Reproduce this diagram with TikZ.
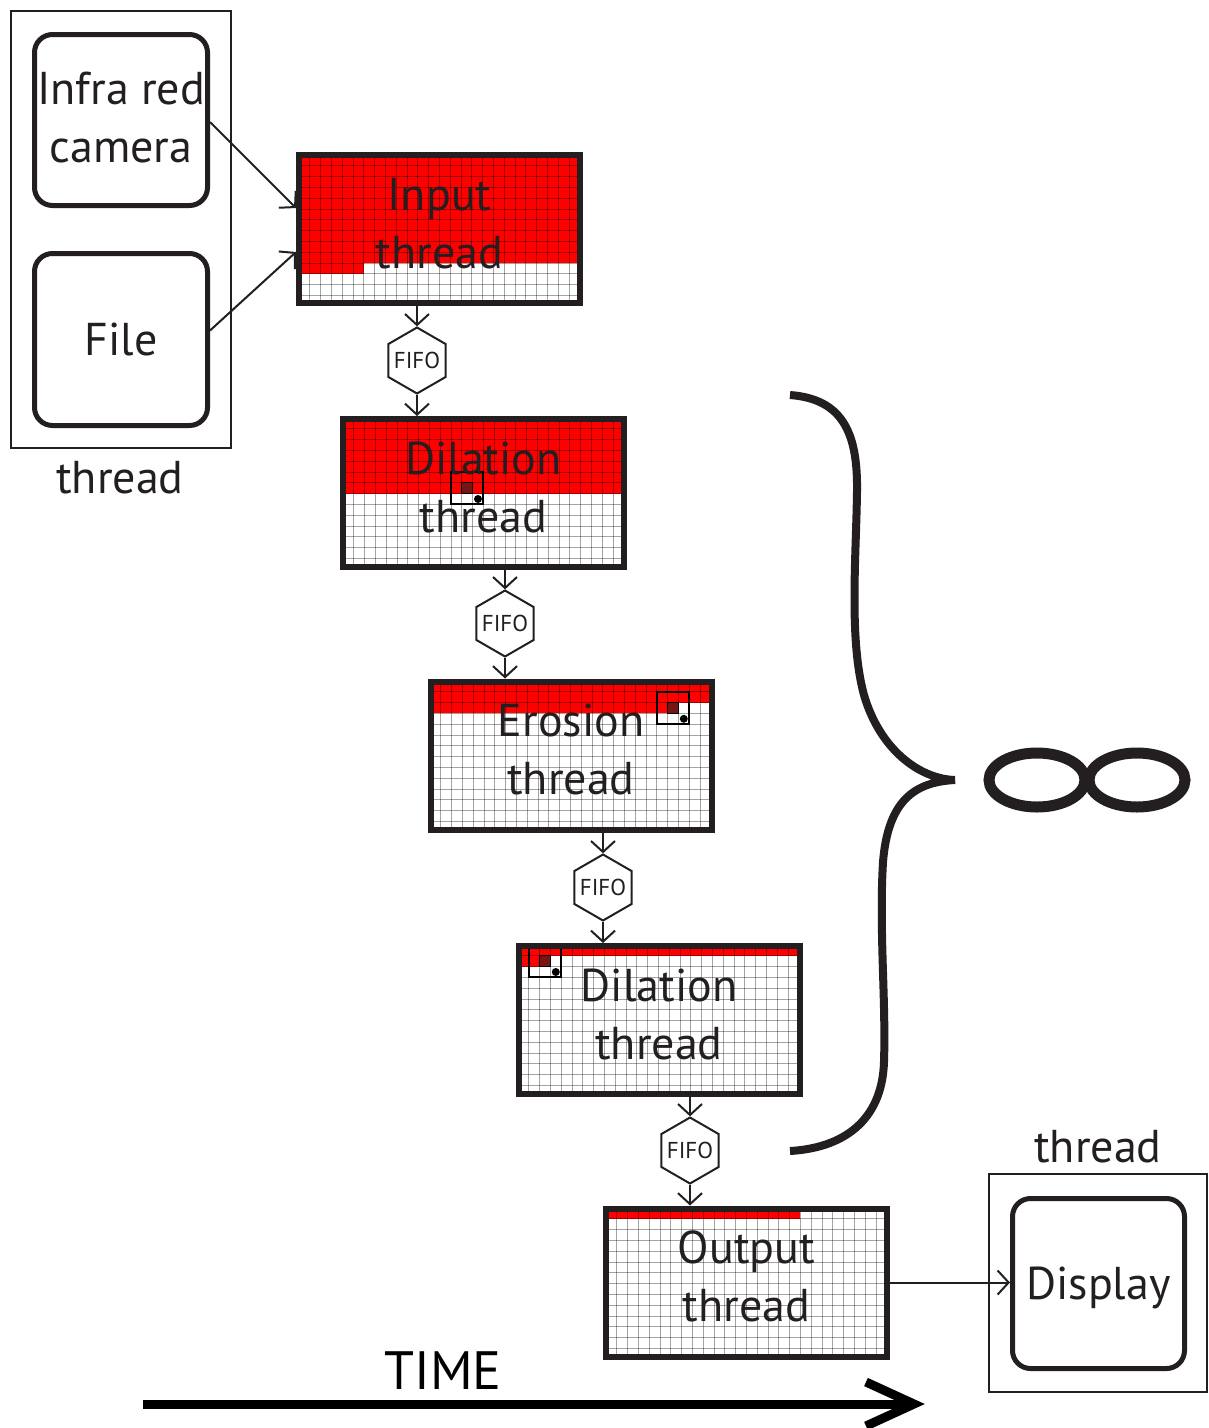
\documentclass[tikz,border=0pt]{standalone}
\usepackage{fontspec}
\setmainfont{PT Sans}
\usetikzlibrary{arrows.meta,shapes.geometric}
\definecolor{ink}{RGB}{35,31,32}
\definecolor{scanred}{RGB}{255,0,0}
\definecolor{darkcell}{RGB}{120,20,20}
\newcommand\cellsz{10.8}
\newcommand\gridlines[2]{%
  \begin{scope}
    \clip (#1,#2) rectangle ++(281,148);
    \foreach \k in {1,...,26}{\draw[gridln] ({#1+\k*\cellsz},#2) -- ++(0,148);}
    \foreach \k in {1,...,13}{\draw[gridln] (#1,{#2+\k*\cellsz}) -- ++(281,0);}
  \end{scope}}
\newcommand\redrect[4]{\fill[scanred] (#1,#2) rectangle ++(#3,#4);}
\newcommand\scanwin[4]{%
  \filldraw[fill=darkcell,draw=black,line width=1.2pt] ({#1+#3*\cellsz},{#2+#4*\cellsz}) rectangle ++(\cellsz,\cellsz);
  \draw[black,line width=2pt] ({#1+(#3-1)*\cellsz},{#2+(#4-1)*\cellsz}) rectangle ++({3*\cellsz},{3*\cellsz});
  \fill[black] ({#1+(#3+1.5)*\cellsz},{#2+(#4+1.5)*\cellsz}) circle[radius=4pt];}
\tikzset{
  gridln/.style={draw=black,draw opacity=0.36,line width=1pt},
  gbox/.style={draw=ink,line width=6pt,minimum width=281pt,minimum height=148pt,inner sep=0pt,align=center,font=\fontsize{46}{58}\selectfont,text=ink,text depth=12pt},
  rbox/.style={draw=ink,line width=5pt,rounded corners=18pt,minimum width=173pt,minimum height=171pt,inner sep=0pt,align=center,font=\fontsize{46}{58}\selectfont,text=ink,text depth=6pt},
  tbox/.style={draw=ink,line width=2pt,inner sep=0pt},
  fifo/.style={draw=ink,line width=2pt,fill=white,regular polygon,regular polygon sides=6,shape border rotate=30,minimum size=66pt,inner sep=-10pt,font=\fontsize{23}{23}\selectfont,text=ink},
  conn/.style={draw=ink,line width=2pt,-{Straight Barb[length=11pt,width=24pt]}},
  lbl/.style={inner sep=0pt,font=\fontsize{46}{58}\selectfont,text=ink},
  thick curve/.style={draw=ink,line width=8pt,line cap=butt}
}
\begin{document}
\begin{tikzpicture}[x=1pt,y=-1pt]
\fill[white] (0,0) rectangle (1209,1428);
\useasboundingbox (0,0) rectangle (1209,1428);

% ---- grid backgrounds ----
\redrect{299}{155}{281}{108}
\redrect{299}{155}{64.8}{118.8}
\gridlines{299}{155}

\redrect{343}{418}{281}{75.6}
\gridlines{343}{418}
\scanwin{343}{418}{11}{6}

\redrect{430}{681}{281}{21.6}
\redrect{430}{681}{248.4}{32.4}
\gridlines{430}{681}
\scanwin{430}{681}{22}{2}

\redrect{518}{945}{281}{10.8}
\redrect{518}{945}{32.4}{21.6}
\gridlines{518}{945}
\scanwin{518}{945}{2}{1}

\redrect{606}{1208}{194.4}{10.8}
\gridlines{606}{1208}

% ---- thread boxes ----
\node[gbox] (inp)  at (439.5,229)   {Input\\thread};
\node[gbox] (dil1) at (483.5,493)   {Dilation\\thread};
\node[gbox] (ero)  at (571,755.5)   {Erosion\\thread};
\node[gbox] (dil2) at (659,1020)    {Dilation\\thread};
\node[gbox] (out)  at (746.5,1282.5){Output\\thread};

% ---- FIFOs ----
\node[fifo] (f1) at (417,360.5)  {FIFO};
\node[fifo] (f2) at (505,623.5)  {FIFO};
\node[fifo] (f3) at (603,887.5)  {FIFO};
\node[fifo] (f4) at (690,1150.5) {FIFO};

% ---- sources ----
\node[tbox,minimum width=220pt,minimum height=437pt] (thr1) at (121,229.5) {};
\node[rbox] (cam)  at (121,120)   {Infra red\\camera};
\node[rbox,minimum height=172pt,text depth=0pt] (file) at (121,339.5) {File};
\node[lbl] (thr1lbl) at (120,478) {thread};

% ---- display ----
\node[tbox,minimum width=218pt,minimum height=218pt] (thr2) at (1098,1283) {};
\node[rbox,minimum width=172pt,minimum height=170pt,text depth=0pt] (disp) at (1098.5,1283.5) {Display};
\node[lbl] (thr2lbl) at (1098,1147) {thread};

% ---- connectors ----
\draw[conn] ([yshift=-2pt]cam.east) -- ([yshift=21pt]inp.west);
\draw[conn] ([yshift=9pt]file.east) -- ([yshift=-23pt]inp.west);
\draw[conn] (f1.north |- inp.south) -- (f1.north);
\draw[conn] (f1.south) -- (f1.south |- dil1.north);
\draw[conn] (f2.north |- dil1.south) -- (f2.north);
\draw[conn] (f2.south) -- (f2.south |- ero.north);
\draw[conn] (f3.north |- ero.south) -- (f3.north);
\draw[conn] (f3.south) -- (f3.south |- dil2.north);
\draw[conn] (f4.north |- dil2.south) -- (f4.north);
\draw[conn] (f4.south) -- (f4.south |- out.north);
\draw[conn] (out.east) -- (out.east -| disp.west);

% ---- brace ----
\draw[thick curve] (790,395) .. controls (842,399) and (858,432) .. (857,492)
  .. controls (856,560) and (849,640) .. (864,695)
  .. controls (880,750) and (920,779) .. (955,780)
  .. controls (915,782) and (888,800) .. (883,862)
  .. controls (879,930) and (886,1000) .. (884,1062)
  .. controls (882,1122) and (842,1148) .. (790,1151);

% ---- infinity ----
\draw[draw=ink,line width=11pt] (1037,780) ellipse [x radius=48, y radius=27];
\draw[draw=ink,line width=11pt] (1137,780) ellipse [x radius=48, y radius=27];

% ---- time arrow ----
\node[inner sep=0pt,font=\fontsize{54}{54}\selectfont,text=black] (timelbl) at (443,1371) {TIME};
\coordinate (t0) at (143,1404);
\coordinate (t1) at (912,1404);
\draw[black,line width=9pt] (t0) -- (t1);
\draw[black,line width=9pt,miter limit=20] ([shift={(-46,-22)}]t1) -- ([shift={(2,0)}]t1) -- ([shift={(-46,22)}]t1);
\end{tikzpicture}
\end{document}
